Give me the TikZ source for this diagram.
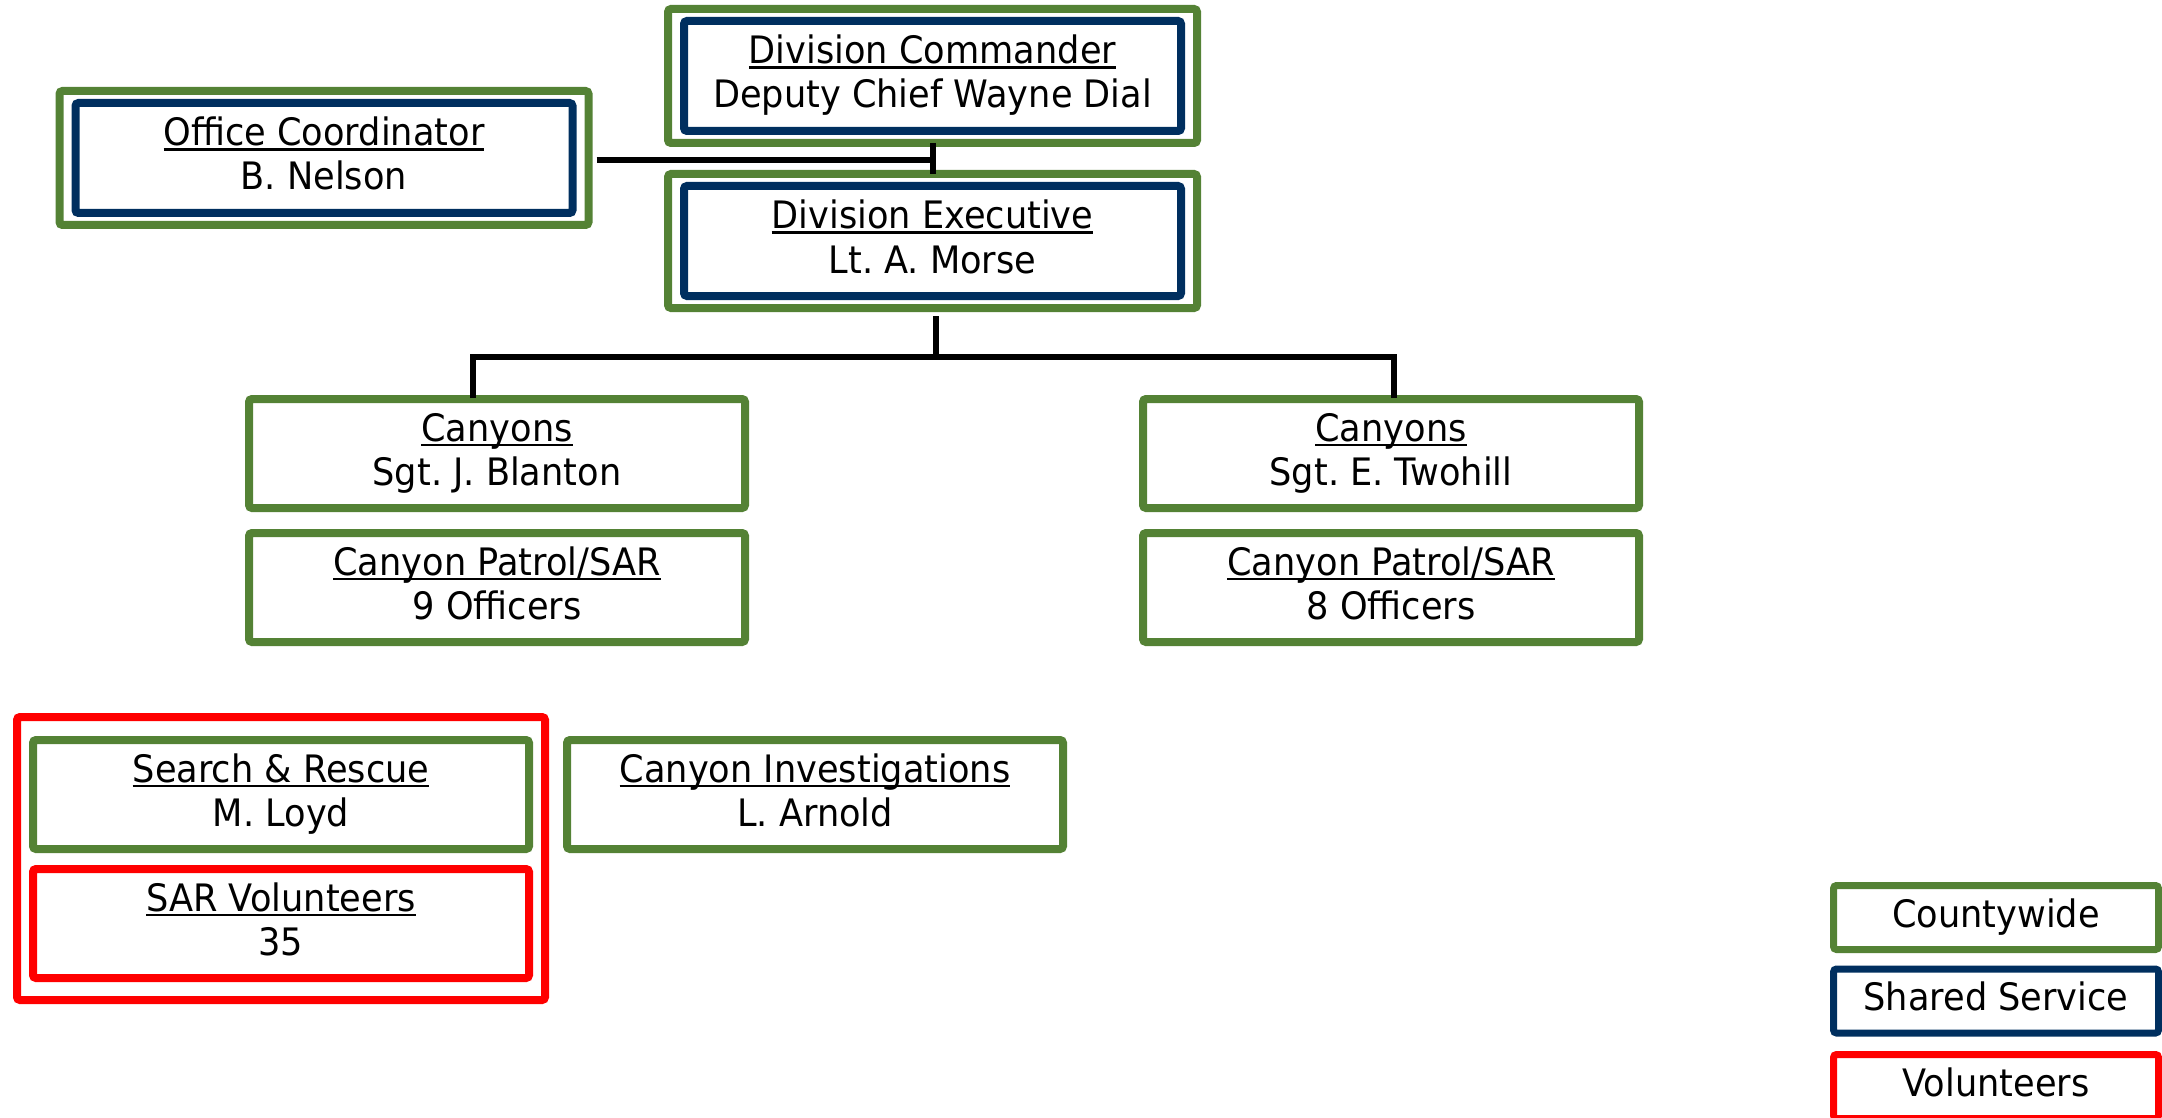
\documentclass[tikz,border=0pt]{standalone}
\usepackage{fontspec}
\setmainfont{DejaVu Sans}[FakeStretch=0.93]
\frenchspacing
\usetikzlibrary{calc}
\definecolor{cgreen}{RGB}{84,130,53}
\definecolor{cnavy}{RGB}{0,47,95}
\definecolor{cred}{RGB}{255,0,0}
\newcommand\myul[1]{\setbox0\hbox{#1}\rlap{\rule[-2.3pt]{\wd0}{1.1pt}}\box0}
\tikzset{
  boxbase/.style={rectangle, inner sep=0pt, rounded corners=1.5pt},
  gouter/.style={boxbase, draw=cgreen, line width=4pt, minimum width=264.5pt, minimum height=67pt},
  ninner/.style={boxbase, draw=cnavy, line width=4pt, minimum width=248.5pt, minimum height=55pt},
  gsingle/.style={boxbase, draw=cgreen, line width=4pt, minimum width=248pt, minimum height=54.5pt},
  rsingle/.style={boxbase, draw=cred, line width=4pt, minimum width=248pt, minimum height=54.5pt},
  rgroup/.style={boxbase, draw=cred, line width=4pt, minimum width=264pt, minimum height=141.5pt},
  legbox/.style={boxbase, line width=3.5pt, minimum width=162.5pt, minimum height=32pt},
  txt/.style={anchor=base, inner sep=0pt, font=\fontsize{18.9pt}{22pt}\selectfont\frenchspacing},
  conn/.style={draw=black, line width=3pt}
}
\begin{document}
\begin{tikzpicture}[x=0.5pt,y=-0.5pt]
\useasboundingbox (0,0) rectangle (2162,1118);
% double boxes
\node[gouter] (dc) at (932.5,76) {};
\node[ninner] (dci) at (932.5,76) {};
\node[gouter] (de) at (932.5,241) {};
\node[ninner] (dei) at (932.5,241) {};
\node[gouter] (oc) at (324,158) {};
\node[ninner] (oci) at (324,158) {};
% single boxes
\node[gsingle] (bl) at (497,453.5) {};
\node[gsingle] (p9) at (497,587.5) {};
\node[gsingle] (tw) at (1391,453.5) {};
\node[gsingle] (p8) at (1391,587.5) {};
\node[rgroup] (grp) at (281,858.5) {};
\node[gsingle] (sr) at (281,794.5) {};
\node[rsingle] (sv) at (281,923.5) {};
\node[gsingle] (ci) at (815,794.5) {};
% legend
\node[legbox, draw=cgreen] (lg1) at (1996,917.5) {};
\node[legbox, draw=cnavy] (lg2) at (1996,1001) {};
\node[legbox, draw=cred] (lg3) at (1996,1086.5) {};
% texts
\node[txt] (dct1) at ($(dc.center)+(0,-12)$) {\myul{Division Commander}};
\node[txt] (dct2) at ($(dc.center)+(0,32)$) {Deputy Chief Wayne Dial};
\node[txt] (det1) at ($(de.center)+(0,-12)$) {\myul{Division Executive}};
\node[txt] (det2) at ($(de.center)+(0,32)$) {Lt. A. Morse};
\node[txt] (oct1) at ($(oc.center)+(0,-12)$) {\myul{Office Coordinator}};
\node[txt] (oct2) at ($(oc.center)+(0,32)$) {B. Nelson};
\node[txt] (blt1) at ($(bl.center)+(0,-12)$) {\myul{Canyons}};
\node[txt] (blt2) at ($(bl.center)+(0,32)$) {Sgt. J. Blanton};
\node[txt] (p9t1) at ($(p9.center)+(0,-12)$) {\myul{Canyon Patrol/SAR}};
\node[txt] (p9t2) at ($(p9.center)+(0,32)$) {9 Officers};
\node[txt] (twt1) at ($(tw.center)+(0,-12)$) {\myul{Canyons}};
\node[txt] (twt2) at ($(tw.center)+(0,32)$) {Sgt. E. Twohill};
\node[txt] (p8t1) at ($(p8.center)+(0,-12)$) {\myul{Canyon Patrol/SAR}};
\node[txt] (p8t2) at ($(p8.center)+(0,32)$) {8 Officers};
\node[txt] (srt1) at ($(sr.center)+(0,-12)$) {\myul{Search \& Rescue}};
\node[txt] (srt2) at ($(sr.center)+(0,32)$) {M. Loyd};
\node[txt] (svt1) at ($(sv.center)+(0,-12)$) {\myul{SAR Volunteers}};
\node[txt] (svt2) at ($(sv.center)+(0,32)$) {35};
\node[txt] (cit1) at ($(ci.center)+(0,-12)$) {\myul{Canyon Investigations}};
\node[txt] (cit2) at ($(ci.center)+(0,32)$) {L. Arnold};
\node[txt] (lgt1) at ($(lg1.center)+(0,9.5)$) {Countywide};
\node[txt] (lgt2) at ($(lg2.center)+(0,9.5)$) {Shared Service};
\node[txt] (lgt3) at ($(lg3.center)+(0,9.5)$) {Volunteers};
% connectors
\coordinate (j1) at ($(dc.south)!0.5!(de.north)+(0,2)$);
\draw[conn] ($(dc.south)+(0,-4)$) -- ($(de.north)+(0,4)$);
\draw[conn] ($(oc.east |- j1)+(4,0)$) -- (j1);
\coordinate (j2) at ($(de.south)+(0,45)$);
\draw[conn] ($(de.south)+(3,4)$) -- ($(j2)+(3,0)$);
\draw[conn] ($(bl.north)+(-24,3)$) |- ($(j2)+(3,0)$) -| ($(tw.north)+(3,3)$);
\end{tikzpicture}
\end{document}
